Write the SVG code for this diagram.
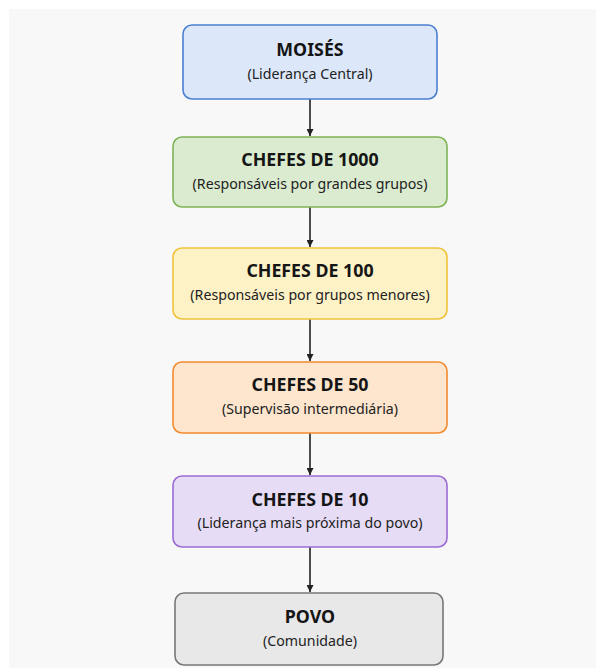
<svg xmlns="http://www.w3.org/2000/svg" width="596" height="668" viewBox="0 0 596 668">
<defs>
<style>
.t{font-family:"Noto Sans","Open Sans","DejaVu Sans",sans-serif;font-size:17.8px;font-weight:bold;fill:#151515;text-anchor:middle}
.s{font-family:"Noto Sans","Open Sans","DejaVu Sans",sans-serif;font-size:14.2px;fill:#222222;text-anchor:middle}
.box{stroke-width:1.6}
.c{stroke:#222;stroke-width:1.6;fill:none}
</style>
<marker id="ah" viewBox="0 0 10 10" refX="10" refY="5" markerWidth="7" markerHeight="7" orient="auto" markerUnits="userSpaceOnUse">
<path d="M0,0 L10,5 L0,10 z" fill="#222"/>
</marker>
</defs>
<rect x="0" y="0" width="596" height="668" fill="#ffffff"/>
<rect x="9" y="9" width="587" height="659" fill="#f8f8f8"/>
<g id="connectors">
<line class="c" x1="310" y1="99" x2="310" y2="136" marker-end="url(#ah)"/>
<line class="c" x1="310" y1="207" x2="310" y2="247" marker-end="url(#ah)"/>
<line class="c" x1="310" y1="319" x2="310" y2="361" marker-end="url(#ah)"/>
<line class="c" x1="310" y1="433" x2="310" y2="475" marker-end="url(#ah)"/>
<line class="c" x1="310" y1="547" x2="310" y2="592" marker-end="url(#ah)"/>
</g>
<g id="moises">
<rect class="box" x="183" y="25" width="254" height="74" rx="9" fill="#dce8fa" stroke="#4a7fd0"/>
<text class="t" x="310" y="56">MOISÉS</text>
<text class="s" x="310" y="79">(Liderança Central)</text>
</g>
<g id="chefes1000">
<rect class="box" x="173" y="137" width="274" height="70" rx="9" fill="#dbebcf" stroke="#7db356"/>
<text class="t" x="310" y="166">CHEFES DE 1000</text>
<text class="s" x="310" y="189">(Responsáveis por grandes grupos)</text>
</g>
<g id="chefes100">
<rect class="box" x="173" y="248" width="274" height="71" rx="9" fill="#fdf1c6" stroke="#f0c23c"/>
<text class="t" x="310" y="277">CHEFES DE 100</text>
<text class="s" x="310" y="300">(Responsáveis por grupos menores)</text>
</g>
<g id="chefes50">
<rect class="box" x="173" y="362" width="274" height="71" rx="9" fill="#fde6cd" stroke="#f28a2e"/>
<text class="t" x="310" y="391">CHEFES DE 50</text>
<text class="s" x="310" y="414">(Supervisão intermediária)</text>
</g>
<g id="chefes10">
<rect class="box" x="173" y="476" width="274" height="71" rx="9" fill="#e6dcf5" stroke="#9b6bd4"/>
<text class="t" x="310" y="506">CHEFES DE 10</text>
<text class="s" x="310" y="528">(Liderança mais próxima do povo)</text>
</g>
<g id="povo">
<rect class="box" x="175" y="593" width="268" height="72" rx="9" fill="#e8e8e8" stroke="#777777"/>
<text class="t" x="310" y="623">POVO</text>
<text class="s" x="310" y="646">(Comunidade)</text>
</g>
</svg>
